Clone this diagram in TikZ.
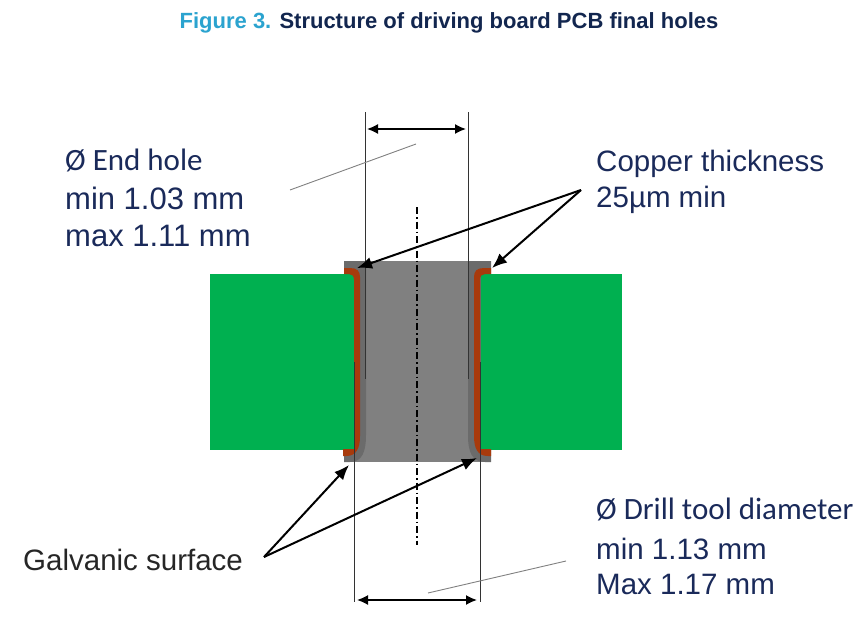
\documentclass[tikz,border=0pt]{standalone}
\usepackage{fontspec}
\setmainfont{Liberation Sans}
\newfontfamily\calib{Carlito}
\definecolor{navy}{HTML}{1A2A5A}
\definecolor{titlenavy}{HTML}{12264F}
\definecolor{titlecyan}{HTML}{2BA3CF}
\definecolor{pcbgreen}{HTML}{00B050}
\definecolor{copper}{HTML}{A83A0C}
\definecolor{midgray}{HTML}{808080}
\definecolor{bandgray}{HTML}{6B6B6B}
\usetikzlibrary{arrows.meta}
\tikzset{
 labl/.style={anchor=base west,inner sep=0pt,text=navy,font=\fontsize{31}{33}\selectfont},
 labr/.style={anchor=base west,inner sep=0pt,text=navy,font=\fontsize{29.5}{33}\selectfont},
 labc/.style={anchor=base west,inner sep=0pt,text=navy,font=\calib\fontsize{31}{33}\selectfont},
 dim/.style={line width=1pt,black!80},
 dimarrow/.style={line width=1.6pt,{Latex[length=11pt,width=10pt]}-{Latex[length=11pt,width=10pt]}},
 pointer/.style={line width=2pt,-{Latex[length=15pt,width=12pt]}},
 tick/.style={line width=0.9pt,black!50},
}
\begin{document}
\begin{tikzpicture}[x=1pt,y=-1pt]
\useasboundingbox (0,0) rectangle (868,642);
\node[anchor=base,inner sep=0pt,font=\bfseries\fontsize{22}{24}\selectfont] (title) at (449,29) {\textcolor{titlecyan}{Figure 3.} \textcolor{titlenavy}{Structure of driving board PCB final holes}};
% hole body
\fill[midgray] (344,261) -- (491,261) -- (491,462) -- (344,462) -- cycle;
% darker bands
\fill[bandgray] (344,261) -- (366,261) -- (366,435) .. controls (366,452) and (362,462) .. (350,462) -- (344,462) -- cycle;
\fill[bandgray] (491,261) -- (468,261) -- (468,435) .. controls (468,452) and (472,462) .. (485,462) -- (491,462) -- cycle;
% board
\fill[pcbgreen] (210,274) rectangle (354,450);
\fill[pcbgreen] (481,274) rectangle (622,450);
% copper
\fill[copper] (344,268) -- (350,268) .. controls (357,268) and (360,271) .. (360,277) -- (360,436) .. controls (360,449) and (356,456) .. (346,456) -- (343,456) -- (343,449) -- (354,449) -- (354,280) .. controls (354,276) and (352,274) .. (349,274) -- (344,274) -- cycle;
\fill[copper] (491,268) -- (484,268) .. controls (477,268) and (474,271) .. (474,277) -- (474,436) .. controls (474,449) and (478,456) .. (488,456) -- (491,456) -- (491,449) -- (480,449) -- (480,280) .. controls (480,276) and (482,274) .. (485,274) -- (491,274) -- cycle;
% guide lines
\coordinate (a1) at (365,112); \coordinate (a2) at (365,379);
\coordinate (b1) at (468,112); \coordinate (b2) at (468,379);
\coordinate (c1) at (354,362); \coordinate (c2) at (354,602);
\coordinate (d1) at (480,362); \coordinate (d2) at (480,602);
\draw[dim] (a1) -- (a2);
\draw[dim] (b1) -- (b2);
\draw[dim] (c1) -- (c2);
\draw[dim] (d1) -- (d2);
% centre line
\coordinate (e1) at (417,207); \coordinate (e2) at (417,545);
\draw[line width=1.1pt,dash pattern=on 7pt off 3pt on 1.5pt off 3pt] (e1) -- (e2);
% dimension arrows
\coordinate (f1) at (367,129); \coordinate (f2) at (466,129);
\coordinate (g1) at (357,600); \coordinate (g2) at (477,600);
\draw[dimarrow] (f1) -- (f2);
\draw[dimarrow] (g1) -- (g2);
% slanted ticks
\coordinate (h1) at (290,190); \coordinate (h2) at (416,144);
\coordinate (i1) at (428,593); \coordinate (i2) at (566,561);
\draw[tick] (h1) -- (h2);
\draw[tick] (i1) -- (i2);
% labels
\node[labc] (endhole) at (65,170) {Ø End hole};
\node[labl] (min1) at (65,209) {min 1.03 mm};
\node[labl] (max1) at (65,246) {max 1.11 mm};
\node[labr] (cu) at (596,171) {Copper thickness};
\node[labr] (cu2) at (596,207) {25µm min};
\node[labr,text=black!85] (gal) at (23,570) {Galvanic surface};
\node[labc] (drill) at (596,519) {Ø Drill tool diameter};
\node[labr] (min2) at (596,559) {min 1.13 mm};
\node[labr] (max2) at (596,594) {Max 1.17 mm};
% pointers
\coordinate (p0) at (581,190);
\coordinate (p1) at (357,268);
\coordinate (p2) at (492,268);
\coordinate (q0) at (264,557);
\coordinate (q1) at (349,465);
\coordinate (q2) at (477,458);
\draw[pointer] (p0) -- (p1);
\draw[pointer] (p0) -- (p2);
\draw[pointer] (q0) -- (q1);
\draw[pointer] (q0) -- (q2);
\end{tikzpicture}
\end{document}
